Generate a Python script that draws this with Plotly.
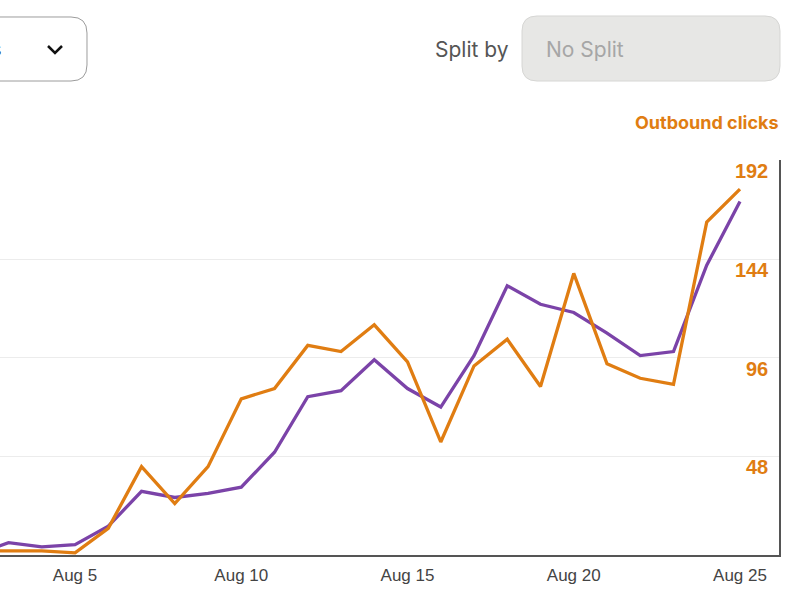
import pandas as pd
import plotly.graph_objects as go

# Daily values (Aug 2 is only partly visible at the left edge)
dates = pd.date_range("2024-08-02", "2024-08-25", freq="D")
primary_metric = [0, 6, 4, 5, 14, 31, 28, 30, 33, 50, 77, 80, 95, 81, 72, 97,
                  131, 122, 118, 108, 97, 99, 141, 172]
outbound_clicks = [2, 2, 2, 1, 13, 43, 25, 43, 76, 81, 102, 99, 112, 94, 55, 92,
                   105, 82, 137, 93, 86, 83, 162, 178]

x_tick_days = ["2024-08-05", "2024-08-10", "2024-08-15", "2024-08-20", "2024-08-25"]
x_tick_text = ["Aug 5", "Aug 10", "Aug 15", "Aug 20", "Aug 25"]
y_tick_vals = [48, 96, 144, 192]

PURPLE = "#7B43A8"
ORANGE = "#E07D12"

W, H = 800, 600
L, R, T, B = 0, 21, 160, 45
plot_w = W - L - R
plot_h = H - T - B


# pixel -> paper coords, so the page furniture can be placed like the screenshot
def px(x):
    return (x - L) / plot_w


def py(y):
    return (H - B - y) / plot_h


def rounded_box(x0, y0, x1, y1, r):
    pts = [
        ("M", x0 + r, y0), ("L", x1 - r, y0), ("Q", x1, y0, x1, y0 + r),
        ("L", x1, y1 - r), ("Q", x1, y1, x1 - r, y1), ("L", x0 + r, y1),
        ("Q", x0, y1, x0, y1 - r), ("L", x0, y0 + r), ("Q", x0, y0, x0 + r, y0),
    ]
    parts = []
    for p in pts:
        cmd, coords = p[0], p[1:]
        xy = []
        for i in range(0, len(coords), 2):
            xy.append(f"{px(coords[i]):.5f},{py(coords[i + 1]):.5f}")
        parts.append(cmd + " ".join(xy))
    return " ".join(parts) + " Z"


fig = go.Figure()
fig.add_trace(go.Scatter(x=dates, y=primary_metric, mode="lines", name="Primary metric",
                         line=dict(color=PURPLE, width=3.3)))
fig.add_trace(go.Scatter(x=dates, y=outbound_clicks, mode="lines", name="Outbound clicks",
                         line=dict(color=ORANGE, width=3.3)))

# dropdown (cut off at the left) and the "No Split" box
fig.add_shape(type="path", xref="paper", yref="paper",
              path=rounded_box(-30, 17, 87, 81, 16),
              line=dict(color="#9c9c9c", width=1), fillcolor="white")
fig.add_shape(type="path", xref="paper", yref="paper",
              path=f"M{px(48):.5f},{py(46):.5f} L{px(55):.5f},{py(53):.5f} L{px(62):.5f},{py(46):.5f}",
              line=dict(color="#111111", width=2.5))
fig.add_shape(type="path", xref="paper", yref="paper",
              path=rounded_box(522, 16, 780, 81, 15),
              line=dict(color="#d6d6d4", width=1), fillcolor="#e7e7e5")

ui_font = "Inter, Lato, sans-serif"
# tail of the dropdown's label, cut off by the left edge as in the screenshot
fig.add_annotation(x=px(4), y=py(49), xref="paper", yref="paper", text="s",
                   showarrow=False, xanchor="right", yanchor="middle",
                   font=dict(family=ui_font, size=20, color="#222222"))
fig.add_annotation(x=px(511), y=py(49), xref="paper", yref="paper", text="Split by",
                   showarrow=False, xanchor="right", yanchor="middle",
                   font=dict(family=ui_font, size=21, color="#555555"))
fig.add_annotation(x=px(544), y=py(49), xref="paper", yref="paper", text="No Split",
                   showarrow=False, xanchor="left", yanchor="middle",
                   font=dict(family=ui_font, size=21, color="#a6a6a6"))
fig.add_annotation(x=px(781), y=py(123), xref="paper", yref="paper",
                   text="<b>Outbound clicks</b>",
                   showarrow=False, xanchor="right", yanchor="middle",
                   font=dict(family=ui_font, size=18, color=ORANGE))

fig.update_layout(
    width=W, height=H,
    margin=dict(l=L, r=R, t=T, b=B),
    paper_bgcolor="white", plot_bgcolor="white",
    showlegend=False,
    xaxis=dict(
        range=["2024-08-02 17:50", "2024-08-26 04:10"],
        tickvals=x_tick_days, ticktext=x_tick_text,
        showgrid=False, zeroline=False,
        showline=True, linecolor="#555555", linewidth=1.5,
        ticks="", ticklabelstandoff=4, ticklabeloverflow="allow",
        tickfont=dict(family="Liberation Sans, Arial, sans-serif", size=17, color="#444444"),
    ),
    yaxis=dict(
        range=[0, 192.2], side="right",
        tickvals=y_tick_vals,
        showgrid=True, gridcolor="#ececec", gridwidth=1,
        zeroline=False,
        showline=True, linecolor="#555555", linewidth=1.5,
        ticks="", ticklabelposition="inside", ticklabeloverflow="allow",
        ticklabelstandoff=12, ticklabelshift=11,
        tickfont=dict(family="Liberation Sans, Arial, sans-serif", size=20, color=ORANGE,
                      weight="bold"),
    ),
)

# the screenshot has no page margin round the chart
fig.write_html("out.html", config={"displayModeBar": False},
               post_script="document.body.style.margin = '0';")
